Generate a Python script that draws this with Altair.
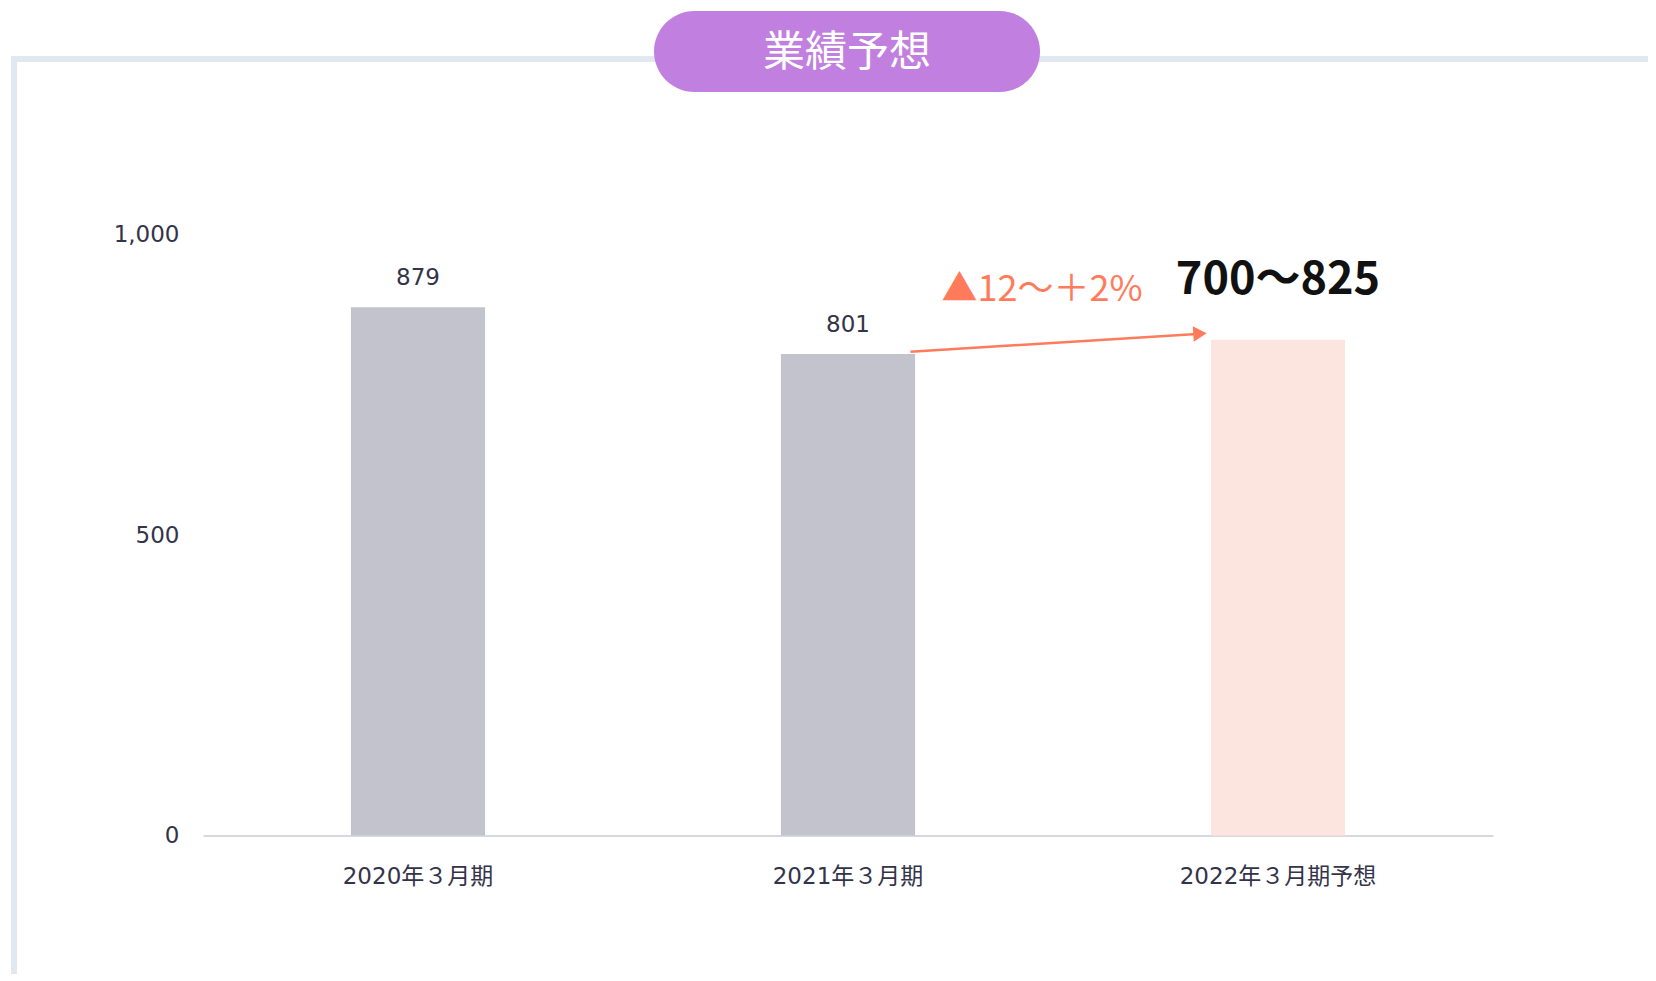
import altair as alt
import pandas as pd

# ---- data ----
categories = ["2020年３月期", "2021年３月期", "2022年３月期予想"]
values = [879, 801, 825]
kinds = ["実績", "実績", "予想"]
forecast_low = 700
forecast_high = 825
change_label = "▲12〜＋2%"
arrow_from_cat = "2021年３月期"
arrow_to_cat = "2022年３月期予想"
arrow_from_val = 805
arrow_to_val = 835
y_ticks = [0, 500, 1000]
title_text = "業績予想"

bars_df = pd.DataFrame({"cat": categories, "value": values, "kind": kinds})
labels_df = bars_df[bars_df["kind"] == "実績"].copy()
labels_df["label"] = labels_df["value"].map(lambda v: f"{v:,}")
fc_df = pd.DataFrame({"cat": [categories[-1]], "value": [forecast_high],
                      "label": [f"{forecast_low}〜{forecast_high}"],
                      "change": [change_label]})
arrow_df = pd.DataFrame({"cat": [arrow_from_cat], "cat2": [arrow_to_cat],
                         "y1": [arrow_from_val], "y2": [arrow_to_val]})
head_df = pd.DataFrame({"cat": [arrow_to_cat], "value": [arrow_to_val]})
deco = alt.Data(values=[{"t": title_text}])

LABEL_FONT = "DejaVu Sans, Noto Sans CJK JP"
JP_FONT = "Noto Sans CJK JP"
AXIS_COLOR = "#33334A"
ORANGE = "#FF7B5C"

x_scale = alt.Scale(domain=categories, paddingInner=0.688, paddingOuter=0.344)
y_scale = alt.Scale(domain=[0, 1000])


def xenc(field="cat", **kw):
    return alt.X(f"{field}:N", sort=categories, scale=x_scale, title=None,
                 axis=alt.Axis(labelAngle=0, ticks=False, tickSize=0,
                               domainColor="#CBCBD6", domainWidth=1.5,
                               labelPadding=30, labelFontSize=23, labelLimit=0,
                               labelFont=LABEL_FONT, labelColor=AXIS_COLOR,
                               grid=False), **kw)


def yenc(field="value"):
    return alt.Y(f"{field}:Q", scale=y_scale, title=None,
                 axis=alt.Axis(values=y_ticks, format=",d", grid=False, domain=False,
                               ticks=False, tickSize=0, labelPadding=24,
                               labelFontSize=23, labelFont=LABEL_FONT,
                               labelColor=AXIS_COLOR))


# frame (decoration)
frame = alt.Chart(deco).mark_rect(filled=False, stroke="#E2E8F0", strokeWidth=6).encode(
    x=alt.value(-189), x2=alt.value(1500), y=alt.value(-175.5), y2=alt.value(820))

pill = alt.Chart(deco).mark_rect(fill="#C17FE0", cornerRadius=40.5).encode(
    x=alt.value(451), x2=alt.value(837), y=alt.value(-223.5), y2=alt.value(-142.5))

pill_text = alt.Chart(deco).mark_text(font=JP_FONT, fontSize=42, color="white",
                                      baseline="middle", align="center").encode(
    x=alt.value(644), y=alt.value(-182), text="t:N")

bars = alt.Chart(bars_df).mark_bar().encode(
    x=xenc(), y=yenc(),
    color=alt.Color("kind:N", scale=alt.Scale(domain=["実績", "予想"],
                                               range=["#C3C3CD", "#FDE5DF"]), legend=None))

val_labels = alt.Chart(labels_df).mark_text(font=LABEL_FONT, fontSize=23, color=AXIS_COLOR,
                                            baseline="alphabetic", dy=-22).encode(
    x=xenc(), y=yenc(), text="label:N")

fc_label = alt.Chart(fc_df).mark_text(font=JP_FONT, fontSize=45, fontWeight="bold",
                                      color="#111111", baseline="alphabetic", dy=-46).encode(
    x=xenc(), y=yenc(), text="label:N")

chg_label = alt.Chart(fc_df).mark_text(font=JP_FONT, fontSize=36, color=ORANGE,
                                       baseline="alphabetic", dx=-236, dy=-38.5).encode(
    x=xenc(), y=yenc(), text="change:N")

arrow = alt.Chart(arrow_df).mark_rule(color=ORANGE, strokeWidth=2.5,
                                      xOffset=-4.6, x2Offset=-10).encode(
    x=xenc(bandPosition=1), x2=alt.X2("cat2:N", bandPosition=0),
    y=yenc("y1"), y2=alt.Y2("y2:Q"))

head = alt.Chart(head_df).mark_point(shape="triangle-right", size=240, filled=True,
                                     color=ORANGE, opacity=1, angle=356.4,
                                     xOffset=-11).encode(
    x=xenc(bandPosition=0), y=yenc())

chart = alt.layer(frame, pill, pill_text, bars, val_labels, fc_label, chg_label,
                  arrow, head).properties(
    width=1290, height=601,
    autosize=alt.AutoSizeParams(type="none"),
    padding={"left": 195, "top": 226.5, "right": 155, "bottom": 138},
).configure_view(stroke=None)

chart.save("out.html", embed_options={"renderer": "svg", "actions": False})
